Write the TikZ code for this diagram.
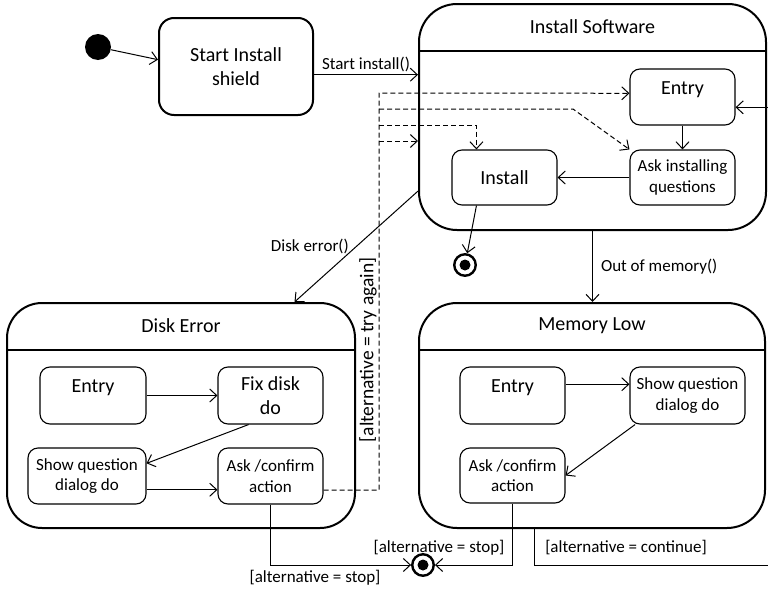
\documentclass[tikz,border=0pt]{standalone}
\usepackage{fontspec}
\setmainfont{Carlito}
\usepackage{tikz}
\usetikzlibrary{arrows.meta, calc}

\tikzset{
  bigtext/.style={font=\fontsize{20}{24}\selectfont},
  smalltext/.style={font=\fontsize{17}{20.5}\selectfont},
  outerstate/.style={draw, line width=2pt, rounded corners=38pt, inner sep=0pt},
  innerstate/.style={draw, line width=1.1pt, rounded corners=10pt, align=center, inner sep=2pt},
  header/.style={line width=2.8pt},
  arr/.style={line width=1pt, -{Straight Barb[length=7pt,width=13pt]}},
  dasharr/.style={arr, dash pattern=on 5pt off 3pt},
  lbl/.style={smalltext, inner sep=2pt},
  initstate/.style={circle, fill=black, minimum size=26pt, inner sep=0pt},
  finalstate/.style={circle, draw, line width=2.4pt, minimum size=21.5pt, inner sep=0pt,
    path picture={\fill (path picture bounding box.center) circle (5.5pt);}},
}

\begin{document}
\begin{tikzpicture}[x=1pt, y=-1pt]

    % 0. Frame of the picture
    \useasboundingbox (0,0) rectangle (768,589);
    \clip (0,0) rectangle (768,589);

    % 1. Initial state and the first state
    \node[initstate] (init) at (98,47) {};
    \node[draw, line width=2pt, rounded corners=15pt, minimum width=154pt, minimum height=97pt,
          bigtext, align=center] (start) at (236,66.5) {Start Install\\shield};
    \draw[arr] (init) -- (start.175);

    % 2. The three composite states with their header lines
    \node[outerstate, minimum width=347pt, minimum height=226pt] (install) at (592.5,117) {};
    \node[outerstate, minimum width=348pt, minimum height=225pt, rounded corners=35pt] (diskerr) at (181,415.5) {};
    \node[outerstate, minimum width=346pt, minimum height=225pt] (memlow) at (592,415.5) {};
    \foreach \st/\ttl in {install/Install Software, diskerr/Disk Error, memlow/Memory Low} {
        \draw[header] ($(\st.north west)+(0,48)$) -- ($(\st.north east)+(0,48)$);
        \node[bigtext] (\st-title) at ($(\st.north)+(0,24)$) {\ttl};
    }

    % 3. Inside Install Software
    \node[innerstate, minimum width=105pt, minimum height=56pt, bigtext, text depth=18pt] (inEntry) at (682.5,97) {Entry};
    \node[innerstate, minimum width=105pt, minimum height=55pt, smalltext] (inAsk) at (682.5,177.5) {Ask installing\\questions};
    \node[innerstate, minimum width=105pt, minimum height=55pt, bigtext] (inInstall) at (504.5,177.5) {Install};
    \node[finalstate] (final1) at (465,265) {};
    \draw[arr] (inEntry) -- (inAsk);
    \draw[arr] (inAsk) -- (inInstall);
    \draw[arr] (inInstall.225) -- (final1);

    % 4. Inside Disk Error
    \node[innerstate, minimum width=106pt, minimum height=57pt, bigtext, text depth=18pt] (deEntry) at (93,395.5) {Entry};
    \node[innerstate, minimum width=105pt, minimum height=57pt, bigtext] (deFix) at (270.5,395.5) {Fix disk\\do};
    \node[innerstate, minimum width=118pt, minimum height=56pt, smalltext] (deShow) at (87,476) {Show question\\dialog do};
    \node[innerstate, minimum width=105pt, minimum height=56pt, smalltext] (deAsk) at (270.5,476) {Ask /confirm\\action};
    \draw[arr] (deEntry) -- (deFix);
    \draw[arr] (deFix.233) -- (deShow.12);
    \draw[arr] (deShow.-13) -- (deShow.-13 -| deAsk.west);

    % 5. Inside Memory Low
    \node[innerstate, minimum width=105pt, minimum height=57pt, bigtext, text depth=18pt] (mlEntry) at (512.5,395.5) {Entry};
    \node[innerstate, minimum width=115pt, minimum height=57pt, smalltext] (mlShow) at (687.5,395.5) {Show question\\dialog do};
    \node[innerstate, minimum width=105pt, minimum height=55pt, smalltext] (mlAsk) at (512.5,475.5) {Ask /confirm\\action};
    \draw[arr] (mlEntry.12) -- (mlEntry.12 -| mlShow.west);
    \draw[arr] (mlShow.209) -- (mlAsk.east);

    % 6. Transitions between the states
    \draw[arr] (start.-6) -- (start.-6 -| install.west) node[midway, above, lbl] {Start install()};
    \draw[arr] (install.203) -- (diskerr.45) node[midway, left=5pt, lbl] {Disk error()};
    \draw[arr] (install.south) -- (install.south |- memlow.north) node[midway, right=6pt, lbl] {Out of memory()};

    % 7. Dashed transitions back into Install Software
    \coordinate (tryTop) at (379,93);
    \coordinate (tryBend) at (573,109);
    \draw[dasharr] (deAsk.-15) -| (tryTop) -- (inEntry.176);
    \draw[dasharr] (tryTop |- tryBend) -- (tryBend) -- (inAsk.north west);
    \draw[dasharr] (tryTop |- 0,125) -| (inInstall.135);
    \draw[dasharr] (tryTop |- 0,141) -- (install.west |- 0,141);
    \node[lbl, font=\fontsize{19.5}{23}\selectfont, rotate=90] (tryLbl) at (368,350) {[alternative = try again]};

    % 8. Stop and continue
    \node[finalstate] (final2) at (423,565) {};
    \draw[arr] (deAsk.south) |- (final2);
    \draw[arr] (mlAsk.south) |- (final2);
    \node[lbl] (stopA) at (315,578) {[alternative = stop]};
    \node[lbl] (stopB) at (439,548) {[alternative = stop]};
    \coordinate (contOut) at (790,565);
    \draw[arr] (memlow.243) |- (contOut) |- (inEntry.-11);
    \node[lbl] (contLbl) at (626,548) {[alternative = continue]};

\end{tikzpicture}
\end{document}
